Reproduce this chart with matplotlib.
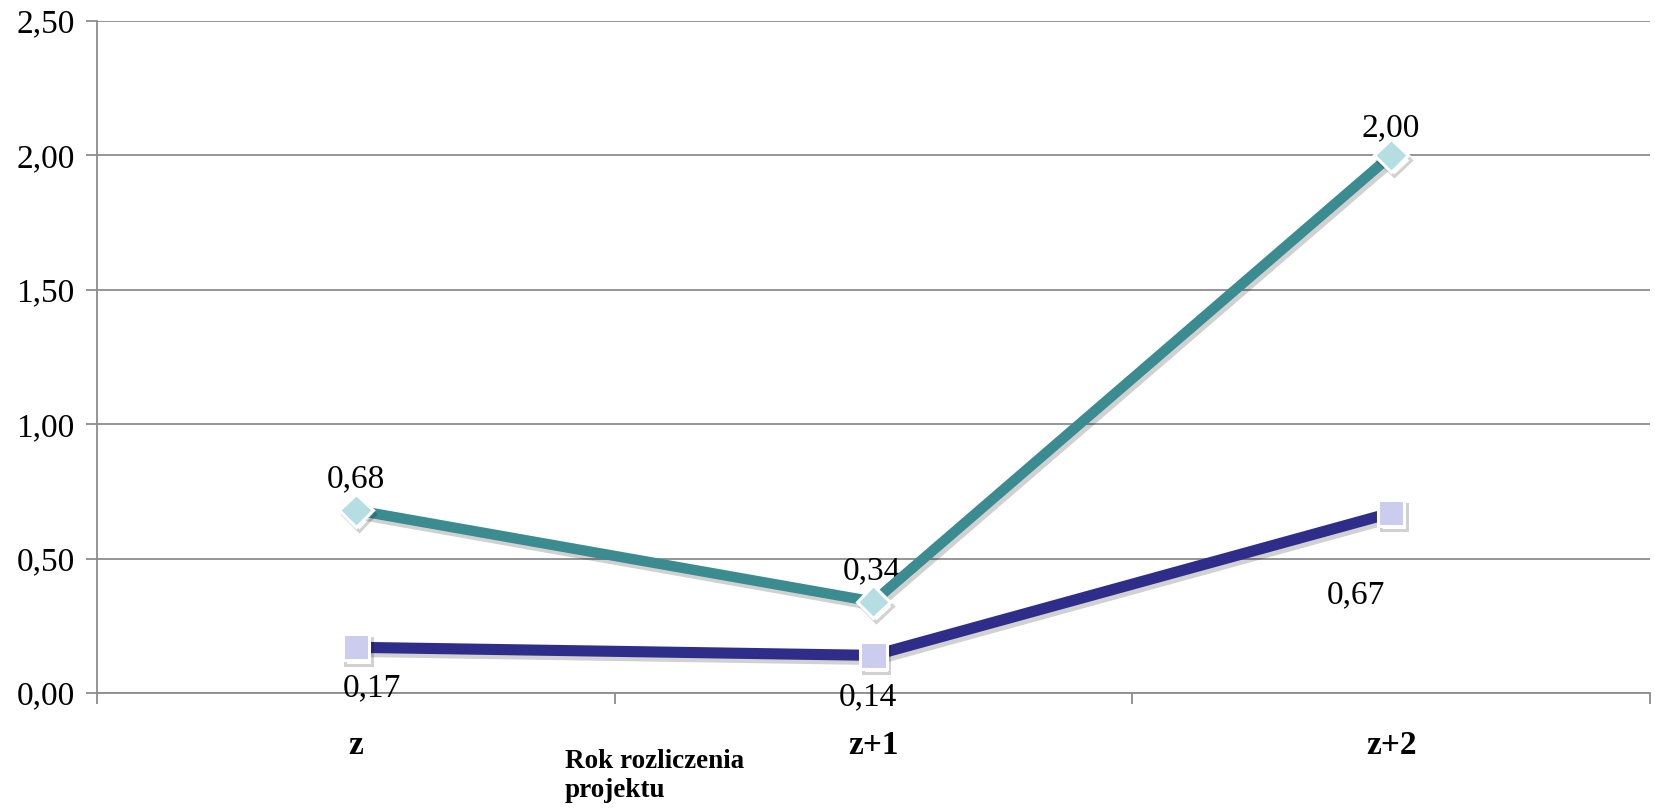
import matplotlib.pyplot as plt
import matplotlib.patheffects as pe

plt.rcParams['font.family'] = ['Liberation Serif', 'DejaVu Serif']

# data
categories = ["z", "z+1", "z+2"]
teal_values = [0.68, 0.34, 2.00]
navy_values = [0.17, 0.14, 0.67]
teal_labels = ["0,68", "0,34", "2,00"]
navy_labels = ["0,17", "0,14", "0,67"]
y_ticks = [0.0, 0.5, 1.0, 1.5, 2.0, 2.5]
y_tick_labels = ["0,00", "0,50", "1,00", "1,50", "2,00", "2,50"]

W, H = 1656, 808
fig = plt.figure(figsize=(W / 100, H / 100), dpi=100)
ax = fig.add_axes([97 / W, (H - 693) / H, (1650 - 97) / W, (693 - 21) / H])

x = list(range(len(categories)))
shadow = [pe.SimpleLineShadow(offset=(2, -3), alpha=0.18, shadow_color="black"), pe.Normal()]

ax.plot(x, teal_values, color="#3a8c90", lw=7.5, marker="D", ms=17,
        mfc="#b4dee2", mec="white", mew=2.2, solid_capstyle="round",
        path_effects=shadow, zorder=4)
ax.plot(x, navy_values, color="#2e2e8a", lw=8, marker="s", ms=19,
        mfc="#cccdee", mec="white", mew=2.2, solid_capstyle="round",
        path_effects=shadow, zorder=3)

# data labels (pixel offsets)
teal_off = [(0, 31), (-2, 31), (0, 27)]
navy_off = [(16, -41), (-6, -42), (-35, -82)]
for i in x:
    ax.annotate(teal_labels[i], (i, teal_values[i]), xytext=teal_off[i],
                textcoords="offset pixels", ha="center", va="center", fontsize=24)
    ax.annotate(navy_labels[i], (i, navy_values[i]), xytext=navy_off[i],
                textcoords="offset pixels", ha="center", va="center", fontsize=24)

ax.set_xlim(-0.5, 2.5)
ax.set_ylim(0, 2.5)
ax.set_yticks(y_ticks)
ax.set_yticklabels(y_tick_labels, fontsize=24)
ax.yaxis.grid(True, color="#8c8c8c", lw=1.3)
ax.set_axisbelow(True)

ax.set_xticks([-0.5, 0.5, 1.5, 2.5])
ax.set_xticklabels([])
ax.set_xticks(x, minor=True)
ax.set_xticklabels(categories, minor=True, fontsize=24, fontweight="bold")
ax.tick_params(axis="x", which="minor", length=0, pad=27)
ax.tick_params(axis="x", which="major", length=8, color="#8c8c8c", width=1.3)
ax.tick_params(axis="y", length=8, color="#8c8c8c", width=1.3, pad=8)

for s in ["top", "right"]:
    ax.spines[s].set_visible(False)
for s in ["left", "bottom"]:
    ax.spines[s].set_color("#8c8c8c")
    ax.spines[s].set_linewidth(1.3)

fig.text(565 / W, 1 - 768 / H, "Rok rozliczenia", fontsize=19.5, fontweight="bold",
         ha="left", va="baseline")
fig.text(565 / W, 1 - 797 / H, "projektu", fontsize=19.5, fontweight="bold",
         ha="left", va="baseline")

fig.savefig("out.png", dpi=100)
